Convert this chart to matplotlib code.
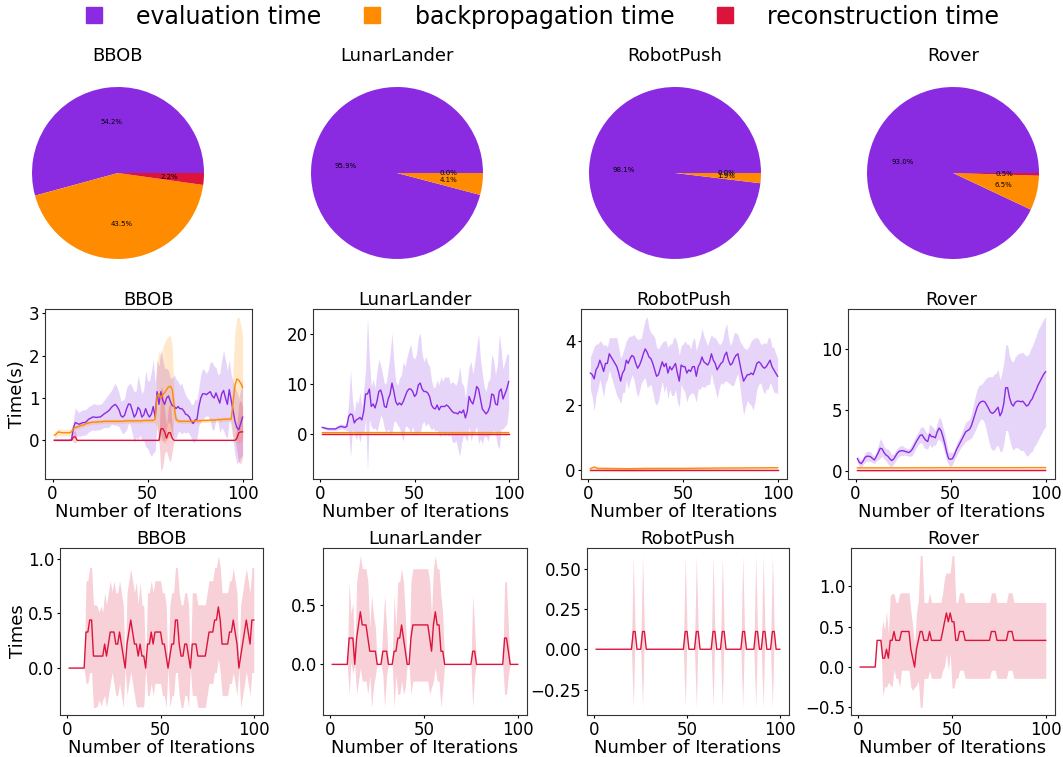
import numpy as np
import matplotlib
matplotlib.use("Agg")
import matplotlib.pyplot as plt
from matplotlib.lines import Line2D

# ---------------- data ----------------
envs = ['BBOB', 'LunarLander', 'RobotPush', 'Rover']
parts = ['evaluation time', 'backpropagation time', 'reconstruction time']
colors = ['blueviolet', 'darkorange', 'crimson']

# pie shares (%)
bbob_share = [54.24, 43.54, 2.22]
lunar_share = [95.9, 4.1, 0.0]
robot_share = [98.1, 1.9, 0.0]
rover_share = [93.0, 6.5, 0.5]

iters = np.arange(1, 101)

# BBOB time per iteration
bbob_eval = [0, 0, 0, 0, 0, 0, 0, 0, 0, 0.02,
             0.3, 0.42, 0.4, 0.38, 0.4, 0.42, 0.42, 0.45, 0.5, 0.52,
             0.55, 0.55, 0.54, 0.55, 0.55, 0.58, 0.62, 0.65, 0.68, 0.72,
             0.78, 0.82, 0.85, 0.8, 0.72, 0.58, 0.55, 0.6, 0.75, 0.86,
             0.85, 0.7, 0.55, 0.62, 0.78, 0.72, 0.55, 0.6, 0.75, 0.62,
             0.55, 0.62, 0.8, 0.55, 1.15, 0.85, 1.15, 0.95, 0.85, 1.0,
             1.05, 0.92, 0.82, 0.8, 0.75, 0.8, 0.75, 0.75, 0.7, 0.62,
             0.6, 0.55, 0.45, 0.4, 0.48, 0.5, 0.8, 1.0, 1.1, 1.1,
             1.08, 1.12, 1.15, 1.05, 1.0, 1.12, 1.0, 0.88, 1.1, 1.18,
             1.0, 0.85, 1.2, 0.95, 0.7, 0.45, 0.3, 0.25, 0.4, 0.55]
bbob_eval_std = [0, 0, 0, 0, 0, 0, 0, 0, 0, 0.02,
                 0.2, 0.35, 0.3, 0.28, 0.3, 0.3, 0.3, 0.3, 0.3, 0.3,
                 0.3, 0.32, 0.3, 0.3, 0.3, 0.3, 0.32, 0.35, 0.38, 0.4,
                 0.4, 0.45, 0.5, 0.45, 0.4, 0.35, 0.4, 0.4, 0.5, 0.45,
                 0.5, 0.55, 0.6, 0.55, 0.75, 0.6, 0.55, 0.6, 0.9, 0.8,
                 0.85, 1.0, 1.1, 0.8, 0.75, 0.9, 1.0, 0.95, 0.85, 0.7,
                 0.6, 0.55, 0.65, 0.75, 0.7, 0.6, 0.55, 0.6, 0.5, 0.45,
                 0.4, 0.4, 0.4, 0.45, 0.5, 0.45, 0.45, 0.55, 0.6, 0.55,
                 0.5, 0.55, 0.7, 0.8, 0.75, 0.6, 0.55, 0.7, 0.8, 0.95,
                 0.9, 0.8, 0.7, 0.6, 0.7, 0.8, 0.85, 0.75, 0.8, 0.9]
bbob_bp = [0.12, 0.15, 0.2, 0.19, 0.18, 0.18, 0.18, 0.18, 0.18, 0.2,
           0.28, 0.3, 0.32, 0.33, 0.35, 0.36, 0.38, 0.4, 0.41, 0.42,
           0.43, 0.43, 0.43, 0.44, 0.44, 0.44, 0.45, 0.45, 0.45, 0.45,
           0.45, 0.45, 0.45, 0.45, 0.45, 0.45, 0.45, 0.46, 0.46, 0.46,
           0.46, 0.46, 0.46, 0.46, 0.46, 0.46, 0.46, 0.47, 0.47, 0.47,
           0.47, 0.47, 0.47, 0.5, 1.05, 1.1, 1.0, 1.08, 1.12, 1.2,
           1.26, 1.28, 1.2, 0.8, 0.5, 0.46, 0.45, 0.45, 0.45, 0.45,
           0.45, 0.45, 0.45, 0.45, 0.46, 0.46, 0.46, 0.46, 0.47, 0.47,
           0.47, 0.47, 0.48, 0.48, 0.48, 0.48, 0.49, 0.49, 0.49, 0.5,
           0.5, 0.5, 0.5, 0.5, 0.9, 1.3, 1.45, 1.42, 1.35, 1.25]
bbob_bp_std = [0.08, 0.08, 0.08, 0.08, 0.08, 0.08, 0.08, 0.08, 0.08, 0.08,
               0.06, 0.05, 0.05, 0.05, 0.05, 0.05, 0.05, 0.05, 0.05, 0.05,
               0.05, 0.05, 0.05, 0.05, 0.05, 0.05, 0.05, 0.05, 0.05, 0.05,
               0.05, 0.05, 0.05, 0.05, 0.05, 0.05, 0.05, 0.05, 0.05, 0.05,
               0.05, 0.05, 0.05, 0.05, 0.05, 0.05, 0.05, 0.05, 0.05, 0.05,
               0.05, 0.05, 0.05, 0.1, 0.8, 1.0, 1.0, 1.1, 1.2, 1.2,
               1.2, 1.2, 1.0, 0.3, 0.08, 0.05, 0.05, 0.05, 0.05, 0.05,
               0.05, 0.05, 0.05, 0.05, 0.05, 0.05, 0.05, 0.05, 0.05, 0.05,
               0.05, 0.05, 0.05, 0.05, 0.05, 0.05, 0.05, 0.05, 0.05, 0.05,
               0.05, 0.05, 0.05, 0.05, 0.8, 1.3, 1.45, 1.5, 1.4, 1.2]
bbob_rt = [0, 0, 0, 0, 0, 0, 0, 0, 0, 0,
           0.08, 0.08, 0, 0, 0, 0, 0, 0, 0, 0,
           0, 0, 0, 0, 0, 0, 0, 0, 0, 0,
           0, 0, 0, 0, 0, 0, 0, 0, 0, 0,
           0, 0, 0, 0, 0, 0, 0, 0, 0, 0,
           0, 0, 0, 0, 0, 0, 0.27, 0.28, 0.2, 0.05,
           0.18, 0.18, 0.05, 0, 0, 0, 0, 0, 0, 0,
           0, 0, 0, 0, 0, 0, 0, 0, 0, 0,
           0, 0, 0, 0, 0, 0, 0, 0, 0, 0,
           0, 0, 0, 0, 0, 0, 0.05, 0.18, 0.2, 0.2]
bbob_rt_std = [0, 0, 0, 0, 0, 0, 0, 0, 0, 0,
               0.12, 0.15, 0, 0, 0, 0, 0, 0, 0, 0,
               0, 0, 0, 0, 0, 0, 0, 0, 0, 0,
               0, 0, 0, 0, 0, 0, 0, 0, 0, 0,
               0, 0, 0, 0, 0, 0, 0, 0, 0, 0,
               0, 0, 0, 0, 0, 0, 1.0, 0.9, 0.5, 0.3,
               0.6, 0.7, 0.3, 0, 0, 0, 0, 0, 0, 0,
               0, 0, 0, 0, 0, 0, 0, 0, 0, 0,
               0, 0, 0, 0, 0, 0, 0, 0, 0, 0,
               0, 0, 0, 0, 0, 0, 0.3, 0.7, 0.75, 0.6]

# LunarLander time per iteration
lunar_eval = [1.3, 1.2, 1.1, 1.0, 1.0, 1.0, 1.0, 1.0, 1.2, 1.4,
              1.5, 1.4, 1.3, 1.5, 3.5, 4.0, 3.8, 2.2, 2.8, 3.0,
              3.3, 2.8, 4.5, 8.0, 8.0, 9.0, 5.5, 6.0, 5.2, 6.5,
              8.5, 8.8, 7.5, 5.5, 5.3, 7.0, 8.0, 10.2, 8.5, 6.5,
              5.8, 6.2, 5.8, 6.5, 7.5, 8.5, 9.0, 9.0, 8.5, 7.5,
              8.0, 9.8, 10.2, 9.0, 8.5, 8.5, 8.2, 7.5, 5.8, 5.2,
              5.0, 5.8, 4.8, 5.5, 5.5, 5.5, 5.8, 5.5, 5.0, 4.5,
              4.2, 4.2, 4.0, 4.5, 4.2, 4.8, 3.2, 4.5, 7.5, 6.5,
              6.0, 7.5, 9.5, 9.0, 7.0, 5.0, 4.5, 4.0, 4.5, 5.5,
              8.0, 7.8, 6.0, 5.8, 8.5, 9.0, 7.0, 8.0, 9.0, 10.5]
lunar_eval_std = [0.3, 0.3, 0.3, 0.3, 0.3, 0.3, 0.3, 0.3, 0.4, 0.5,
                  0.5, 0.5, 0.5, 0.8, 3.0, 8.7, 3.0, 2.0, 4.0, 3.0,
                  5.0, 2.5, 4.5, 5.0, 15.5, 6.0, 4.0, 5.0, 4.0, 6.0,
                  6.5, 5.0, 4.5, 4.5, 5.0, 6.0, 8.0, 10.0, 6.0, 4.0,
                  4.0, 5.0, 6.0, 8.0, 6.0, 7.0, 8.0, 9.0, 7.0, 7.5,
                  8.0, 9.5, 10.0, 7.0, 6.0, 7.0, 6.0, 6.0, 5.0, 4.0,
                  4.5, 5.0, 5.0, 6.0, 5.0, 6.0, 5.5, 6.0, 5.0, 6.0,
                  6.0, 5.5, 7.0, 9.0, 6.0, 5.0, 4.0, 6.0, 6.0, 8.0,
                  6.0, 7.0, 8.0, 11.0, 8.0, 7.0, 5.0, 4.5, 6.0, 5.5,
                  8.0, 7.0, 6.0, 8.0, 11.5, 8.0, 6.0, 6.5, 7.0, 5.5]
lunar_bp_x = [1, 20, 40, 60, 80, 100]
lunar_bp = [0.25, 0.26, 0.26, 0.25, 0.26, 0.26]
lunar_bp_std = [0.15, 0.15, 0.15, 0.15, 0.15, 0.15]
lunar_rt_x = [1, 50, 100]
lunar_rt = [0.0, 0.0, 0.0]
lunar_rt_std = [0.03, 0.03, 0.03]

# RobotPush time per iteration
robot_eval = [3.0, 2.95, 2.82, 3.1, 3.2, 3.4, 3.25, 3.05, 3.3, 3.3,
              3.6, 3.5, 3.4, 3.3, 3.2, 3.0, 2.75, 3.0, 3.1, 3.4,
              3.3, 3.45, 3.55, 3.5, 3.3, 3.15, 3.25, 3.4, 3.6, 3.75,
              3.65, 3.5, 3.45, 3.3, 3.1, 2.9, 2.95, 3.15, 3.35, 3.2,
              3.3, 3.0, 3.2, 3.1, 3.2, 3.3, 3.0, 2.75, 3.25, 3.2,
              3.2, 3.0, 3.1, 3.05, 3.2, 3.2, 2.9, 3.2, 3.3, 3.5,
              3.35, 3.3, 3.25, 3.35, 3.6, 3.4, 3.3, 3.1, 3.2, 3.3,
              3.35, 3.55, 3.65, 3.4, 3.25, 3.3, 3.45, 3.55, 3.6, 3.3,
              3.0, 2.75, 2.85, 2.95, 2.95, 3.0, 2.95, 3.1, 3.3, 3.35,
              3.3, 3.2, 3.15, 3.2, 3.3, 3.4, 3.2, 3.1, 3.0, 2.9]
robot_eval_std = [0.5, 0.7, 1.0, 0.8, 0.7, 0.6, 0.7, 0.8, 0.6, 0.5,
                  0.5, 0.6, 0.7, 0.8, 0.9, 0.8, 0.7, 0.6, 0.7, 0.6,
                  0.8, 0.7, 0.6, 0.7, 0.8, 0.9, 0.8, 0.7, 0.8, 0.9,
                  1.1, 0.9, 0.8, 0.9, 1.0, 0.9, 0.8, 0.7, 0.6, 0.8,
                  0.7, 0.8, 0.7, 0.8, 0.9, 0.8, 0.9, 0.8, 0.6, 0.7,
                  0.8, 0.9, 0.8, 0.7, 0.8, 0.9, 0.8, 0.7, 0.8, 0.9,
                  0.8, 0.7, 0.6, 0.7, 0.6, 0.7, 0.8, 0.9, 0.7, 0.6,
                  0.7, 0.8, 0.9, 0.7, 0.6, 0.7, 0.8, 0.7, 0.6, 0.7,
                  0.9, 1.05, 0.9, 0.8, 0.9, 1.0, 1.1, 1.0, 0.8, 0.7,
                  0.6, 0.7, 0.8, 0.7, 0.8, 0.7, 0.6, 0.7, 0.6, 0.55]
robot_bp_x = [1, 2, 3, 4, 5, 10, 20, 30, 50, 70, 100]
robot_bp = [0.03, 0.06, 0.08, 0.06, 0.04, 0.04, 0.03, 0.04, 0.04, 0.05, 0.06]
robot_bp_std = [0.03, 0.03, 0.04, 0.03, 0.03, 0.03, 0.03, 0.03, 0.03, 0.03, 0.03]
robot_rt_x = [1, 20, 50, 100]
robot_rt = [0.0, 0.0, 0.0, 0.0]
robot_rt_std = [0.02, 0.05, 0.03, 0.02]

# Rover time per iteration
rover_eval = [1.0, 0.7, 0.6, 0.8, 1.1, 1.2, 1.2, 1.15, 1.0, 0.9,
              1.2, 1.5, 1.85, 1.8, 1.5, 1.3, 1.2, 1.0, 0.85, 0.95,
              1.2, 1.45, 1.6, 1.65, 1.65, 1.6, 1.55, 1.5, 1.6, 1.8,
              2.1, 2.4, 2.65, 2.9, 2.95, 2.7, 2.5, 2.4, 3.0, 2.8,
              2.8, 2.7, 3.2, 3.5, 3.3, 2.8, 2.2, 1.5, 1.0, 0.95,
              1.0, 1.3, 1.7, 2.0, 2.3, 2.6, 2.9, 3.2, 3.3, 3.4,
              3.7, 4.2, 4.7, 5.2, 5.5, 5.65, 5.7, 5.65, 5.4, 5.1,
              4.8, 4.7, 4.8, 5.0, 5.2, 4.5, 4.8, 5.5, 6.8, 6.8,
              6.0, 5.5, 5.3, 5.6, 5.7, 5.7, 5.65, 5.7, 5.5, 5.3,
              5.4, 5.7, 5.9, 6.3, 6.6, 7.0, 7.3, 7.6, 7.9, 8.1]
rover_eval_std = [0.3, 0.3, 0.3, 0.3, 0.4, 0.4, 0.4, 0.4, 0.3, 0.3,
                  0.4, 0.6, 0.8, 0.6, 0.5, 0.5, 0.6, 0.6, 0.5, 0.4,
                  0.4, 0.4, 0.4, 0.4, 0.4, 0.3, 0.3, 0.3, 0.4, 0.5,
                  0.5, 0.5, 0.5, 0.6, 0.7, 0.8, 0.7, 0.6, 0.8, 0.9,
                  0.7, 0.6, 0.7, 0.9, 0.9, 0.8, 0.8, 0.7, 0.5, 0.6,
                  0.5, 0.4, 0.5, 0.5, 0.5, 0.6, 0.7, 0.8, 0.8, 0.8,
                  1.0, 1.2, 1.4, 1.5, 1.5, 1.4, 1.5, 1.8, 2.2, 2.6,
                  2.9, 3.0, 3.1, 3.0, 3.1, 2.9, 3.2, 3.3, 3.5, 3.5,
                  3.4, 3.5, 3.6, 3.7, 3.8, 3.9, 4.0, 4.0, 4.0, 4.1,
                  4.1, 4.2, 4.3, 4.3, 4.4, 4.5, 4.5, 4.5, 4.5, 4.5]
rover_bp_x = [1, 25, 50, 75, 100]
rover_bp = [0.25, 0.25, 0.26, 0.26, 0.27]
rover_bp_std = [0.03, 0.03, 0.03, 0.03, 0.03]
rover_rt_x = [1, 25, 50, 75, 100]
rover_rt = [0.03, 0.03, 0.04, 0.04, 0.04]
rover_rt_std = [0.06, 0.06, 0.06, 0.06, 0.06]

# number of reconstructions per iteration
bbob_rc = [0, 0, 0, 0, 0, 0, 0, 0, 0, 0.33,
           0.33, 0.44, 0.44, 0.11, 0.11, 0.11, 0.11, 0.11, 0.11, 0.22,
           0.11, 0.22, 0.33, 0.33, 0.33, 0.22, 0.22, 0.33, 0.22, 0.11,
           0.0, 0.22, 0.33, 0.44, 0.33, 0.22, 0.22, 0.11, 0.22, 0.11,
           0.11, 0.0, 0.22, 0.22, 0.33, 0.22, 0.33, 0.33, 0.33, 0.33,
           0.22, 0.22, 0.11, 0.0, 0.11, 0.22, 0.22, 0.44, 0.44, 0.22,
           0.11, 0.11, 0.22, 0.22, 0.11, 0.0, 0.22, 0.22, 0.22, 0.11,
           0.11, 0.11, 0.11, 0.11, 0.22, 0.33, 0.33, 0.33, 0.44, 0.44,
           0.56, 0.44, 0.22, 0.22, 0.22, 0.22, 0.33, 0.33, 0.44, 0.33,
           0.22, 0.0, 0.11, 0.22, 0.33, 0.44, 0.33, 0.22, 0.44, 0.44]
bbob_rc_std = [0, 0, 0, 0, 0, 0, 0, 0, 0, 0.47,
               0.47, 0.48, 0.48, 0.47, 0.47, 0.46, 0.4, 0.46, 0.4, 0.47,
               0.47, 0.47, 0.47, 0.37, 0.47, 0.47, 0.47, 0.47, 0.47, 0.47,
               0.0, 0.47, 0.47, 0.47, 0.47, 0.47, 0.57, 0.47, 0.57, 0.47,
               0.46, 0.0, 0.47, 0.47, 0.47, 0.47, 0.47, 0.47, 0.47, 0.47,
               0.47, 0.47, 0.47, 0.0, 0.47, 0.47, 0.47, 0.48, 0.48, 0.47,
               0.47, 0.47, 0.47, 0.47, 0.47, 0.0, 0.47, 0.47, 0.47, 0.47,
               0.47, 0.47, 0.47, 0.47, 0.47, 0.47, 0.47, 0.47, 0.48, 0.48,
               0.47, 0.48, 0.47, 0.47, 0.47, 0.47, 0.47, 0.47, 0.48, 0.47,
               0.47, 0.0, 0.47, 0.47, 0.48, 0.47, 0.47, 0.47, 0.48, 0.48]
lunar_rc = [0, 0, 0, 0, 0, 0, 0, 0, 0, 0.22,
            0.22, 0.22, 0.0, 0.22, 0.33, 0.44, 0.33, 0.33, 0.33, 0.22,
            0.11, 0.11, 0.11, 0.11, 0.0, 0.0, 0.0, 0.11, 0.11, 0.11,
            0.0, 0.0, 0.0, 0.11, 0.11, 0.22, 0.22, 0.33, 0.22, 0.11,
            0.0, 0.0, 0.22, 0.33, 0.33, 0.33, 0.33, 0.33, 0.33, 0.33,
            0.33, 0.33, 0.22, 0.11, 0.33, 0.44, 0.33, 0.33, 0.11, 0.11,
            0.0, 0, 0, 0, 0, 0, 0, 0, 0, 0,
            0, 0, 0, 0, 0, 0.11, 0.11, 0.0, 0, 0,
            0, 0, 0, 0, 0, 0, 0, 0, 0, 0,
            0, 0, 0.22, 0.22, 0.11, 0.0, 0, 0, 0, 0]
lunar_rc_std = [0, 0, 0, 0, 0, 0, 0, 0, 0, 0.47,
                0.2, 0.3, 0.0, 0.47, 0.47, 0.47, 0.47, 0.47, 0.47, 0.47,
                0.2, 0.47, 0.3, 0.2, 0.0, 0.0, 0.0, 0.2, 0.47, 0.2,
                0.0, 0.0, 0.0, 0.47, 0.2, 0.47, 0.47, 0.47, 0.47, 0.3,
                0.0, 0.0, 0.47, 0.47, 0.47, 0.47, 0.47, 0.47, 0.47, 0.47,
                0.47, 0.47, 0.47, 0.3, 0.47, 0.47, 0.47, 0.47, 0.47, 0.3,
                0.0, 0, 0, 0, 0, 0, 0, 0, 0, 0,
                0, 0, 0, 0, 0, 0.47, 0.2, 0.0, 0, 0,
                0, 0, 0, 0, 0, 0, 0, 0, 0, 0,
                0, 0, 0.47, 0.47, 0.2, 0.0, 0, 0, 0, 0]
robot_rc = [0, 0, 0, 0, 0, 0, 0, 0, 0, 0,
            0, 0, 0, 0, 0, 0, 0, 0, 0, 0,
            0.11, 0.11, 0, 0, 0, 0.11, 0.11, 0, 0, 0,
            0, 0, 0, 0, 0, 0, 0, 0, 0, 0,
            0, 0, 0, 0, 0, 0, 0, 0, 0.11, 0.11,
            0, 0, 0, 0, 0.11, 0.11, 0, 0, 0, 0,
            0, 0, 0, 0.11, 0.11, 0, 0, 0, 0.11, 0.11,
            0, 0, 0, 0, 0, 0, 0, 0, 0, 0.11,
            0.11, 0, 0, 0, 0, 0, 0.11, 0.11, 0, 0,
            0.11, 0.11, 0, 0, 0, 0.11, 0.11, 0, 0, 0]
robot_rc_std = [0, 0, 0, 0, 0, 0, 0, 0, 0, 0,
                0, 0, 0, 0, 0, 0, 0, 0, 0, 0,
                0.47, 0, 0, 0, 0, 0.47, 0, 0, 0, 0,
                0, 0, 0, 0, 0, 0, 0, 0, 0, 0,
                0, 0, 0, 0, 0, 0, 0, 0, 0.47, 0,
                0, 0, 0, 0, 0.47, 0, 0, 0, 0, 0,
                0, 0, 0, 0.47, 0, 0, 0, 0, 0.47, 0,
                0, 0, 0, 0, 0, 0, 0, 0, 0, 0.47,
                0, 0, 0, 0, 0, 0, 0.47, 0, 0, 0,
                0.47, 0, 0, 0, 0, 0.47, 0, 0, 0, 0]
rover_rc = [0, 0, 0, 0, 0, 0, 0, 0, 0, 0.33,
            0.33, 0.33, 0.11, 0.11, 0.22, 0.11, 0.33, 0.33, 0.44, 0.33,
            0.33, 0.33, 0.44, 0.44, 0.44, 0.44, 0.44, 0.22, 0.11, 0.0,
            0.22, 0.33, 0.44, 0.44, 0.33, 0.33, 0.33, 0.44, 0.33, 0.33,
            0.33, 0.33, 0.33, 0.33, 0.44, 0.56, 0.67, 0.56, 0.67, 0.56,
            0.56, 0.33, 0.33, 0.44, 0.44, 0.44, 0.33, 0.33, 0.33, 0.33,
            0.33, 0.33, 0.33, 0.33, 0.33, 0.33, 0.33, 0.33, 0.33, 0.33,
            0.44, 0.44, 0.44, 0.33, 0.33, 0.33, 0.33, 0.33, 0.33, 0.44,
            0.44, 0.44, 0.33, 0.33, 0.33, 0.33, 0.33, 0.33, 0.33, 0.33,
            0.33, 0.33, 0.33, 0.33, 0.33, 0.33, 0.33, 0.33, 0.33, 0.33]
rover_rc_std = [0, 0, 0, 0, 0, 0, 0, 0, 0, 0,
                0, 0, 0.47, 0.35, 0.47, 0.3, 0.55, 0.58, 0.47, 0.47,
                0.47, 0.58, 0.48, 0.48, 0.48, 0.48, 0.48, 0.47, 0.4, 0.25,
                0.45, 0.5, 0.94, 0.94, 0.47, 0.47, 0.47, 0.48, 0.47, 0.47,
                0.47, 0.47, 0.47, 0.47, 0.48, 0.55, 0.5, 0.6, 0.5, 0.82,
                0.82, 0.47, 0.47, 0.48, 0.48, 0.48, 0.47, 0.47, 0.47, 0.47,
                0.47, 0.47, 0.47, 0.47, 0.47, 0.47, 0.47, 0.47, 0.47, 0.47,
                0.48, 0.48, 0.48, 0.47, 0.47, 0.47, 0.47, 0.47, 0.47, 0.48,
                0.48, 0.48, 0.47, 0.47, 0.47, 0.47, 0.47, 0.47, 0.47, 0.47,
                0.47, 0.47, 0.47, 0.47, 0.47, 0.47, 0.47, 0.47, 0.47, 0.47]

# ---------------- layout (pixels) ----------------
W, H = 1063, 757


def box(l, t, r, b):
    return [l / W, 1 - b / H, (r - l) / W, (b - t) / H]


pie_centers = [118, 397, 675, 953]
pie_cy, pie_r = 173, 86
row2_boxes = [(45, 309, 252, 479), (313, 309, 518, 479),
              (581, 309, 787, 479), (848, 309, 1055, 479)]
row3_boxes = [(60, 548, 263, 715), (323, 548, 527, 715),
              (587, 548, 789, 715), (851, 548, 1055, 715)]

shares = [bbob_share, lunar_share, robot_share, rover_share]
evals = [(iters, bbob_eval, bbob_eval_std), (iters, lunar_eval, lunar_eval_std),
         (iters, robot_eval, robot_eval_std), (iters, rover_eval, rover_eval_std)]
bps = [(iters, bbob_bp, bbob_bp_std), (lunar_bp_x, lunar_bp, lunar_bp_std),
       (robot_bp_x, robot_bp, robot_bp_std), (rover_bp_x, rover_bp, rover_bp_std)]
rts = [(iters, bbob_rt, bbob_rt_std), (lunar_rt_x, lunar_rt, lunar_rt_std),
       (robot_rt_x, robot_rt, robot_rt_std), (rover_rt_x, rover_rt, rover_rt_std)]
rcs = [(bbob_rc, bbob_rc_std), (lunar_rc, lunar_rc_std),
       (robot_rc, robot_rc_std), (rover_rc, rover_rc_std)]

fig = plt.figure(figsize=(W / 100, H / 100), dpi=100)
tick_fs = 12
lab_fs = 13


def style(ax):
    ax.tick_params(labelsize=tick_fs, length=2.5, pad=1.5)
    for sp in ax.spines.values():
        sp.set_color('#333333')


for i, name in enumerate(envs):
    # pies
    half = pie_r * 1.25
    cx = pie_centers[i]
    ax = fig.add_axes(box(cx - half, pie_cy - half, cx + half, pie_cy + half))
    ax.pie(shares[i], colors=colors, autopct='%1.1f%%',
           textprops={'fontsize': 5})
    ax.set_title(name, fontsize=lab_fs, y=1.02, pad=0)

    # times
    ax = fig.add_axes(box(*row2_boxes[i]))
    for (x, m, s), c in zip([evals[i], bps[i], rts[i]], colors):
        x = np.asarray(x)
        m = np.asarray(m)
        s = np.asarray(s)
        ax.plot(x, m, color=c, lw=1)
        ax.fill_between(x, m - s, m + s, color=c, alpha=0.2, lw=0)
    ax.set_title(name, fontsize=lab_fs, pad=3)
    ax.set_xlabel('Number of Iterations', fontsize=lab_fs, labelpad=0)
    style(ax)
    if i == 0:
        ax.set_ylabel('Time(s)', fontsize=lab_fs, labelpad=2)

    # reconstructions
    ax = fig.add_axes(box(*row3_boxes[i]))
    m = np.asarray(rcs[i][0])
    s = np.asarray(rcs[i][1])
    ax.plot(iters, m, color='crimson', lw=1)
    ax.fill_between(iters, m - s, m + s, color='crimson', alpha=0.2, lw=0)
    ax.set_title(name, fontsize=lab_fs, pad=3)
    ax.set_xlabel('Number of Iterations', fontsize=lab_fs, labelpad=0)
    style(ax)
    if i == 0:
        ax.set_ylabel('Times', fontsize=lab_fs, labelpad=1)

handles = [Line2D([], [], marker='s', color=c, linestyle='None', markersize=12)
           for c in colors]
fig.legend(handles, parts, loc='center', bbox_to_anchor=(0.503, 0.978),
           ncol=3, frameon=False, fontsize=17, columnspacing=1.15,
           handletextpad=0.8)

fig.savefig('out.png', dpi=100)
